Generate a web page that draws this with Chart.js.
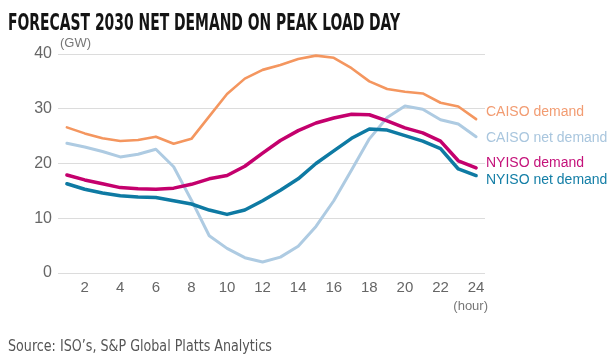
<!DOCTYPE html>
<html><head><meta charset="utf-8">
<script src="https://cdn.jsdelivr.net/npm/chart.js@4"></script>
<style>
html,body{margin:0;padding:0;background:#fff;width:615px;height:357px;overflow:hidden;}
#wrap{position:relative;width:615px;height:357px;}
canvas{position:absolute;left:0;top:0;}
.t{position:absolute;white-space:nowrap;transform-origin:0 0;line-height:1;}
#title{left:8px;top:9px;font:bold 23px "Liberation Sans Narrow","DejaVu Sans Condensed",sans-serif;color:#141414;}
#source{left:8px;top:337px;font:15px "Liberation Sans Narrow","DejaVu Sans Condensed",sans-serif;color:#555;}
</style></head>
<body><div id="wrap"><canvas id="c" width="615" height="357"></canvas>
<div class="t" id="title">FORECAST 2030 NET DEMAND ON PEAK LOAD DAY</div>
<div class="t" id="source">Source: ISO’s, S&amp;P Global Platts Analytics</div></div>
<script>
const hours = [1,2,3,4,5,6,7,8,9,10,11,12,13,14,15,16,17,18,19,20,21,22,23,24];
const xTicks = [2,4,6,8,10,12,14,16,18,20,22,24];
const yTicks = [0,10,20,30,40];
const seriesNames = ['CAISO demand','CAISO net demand','NYISO demand','NYISO net demand'];
const caisoDemand = [26.6,25.5,24.6,24.1,24.3,24.9,23.6,24.5,28.6,32.7,35.5,37.1,38.0,39.1,39.7,39.3,37.4,35.0,33.6,33.1,32.8,31.1,30.4,28.1];
const caisoNet    = [23.7,23.0,22.2,21.2,21.7,22.6,19.4,13.3,6.8,4.5,2.8,2.0,2.9,4.9,8.5,13.2,18.8,24.5,28.4,30.5,29.9,28.0,27.2,24.9];
const nyisoDemand = [17.9,17.0,16.3,15.6,15.4,15.3,15.5,16.2,17.2,17.8,19.5,21.9,24.2,26.0,27.4,28.3,29.0,28.9,27.8,26.5,25.6,24.1,20.5,19.2];
const nyisoNet    = [16.3,15.3,14.6,14.1,13.9,13.8,13.2,12.6,11.5,10.7,11.5,13.2,15.1,17.2,20.0,22.3,24.6,26.3,26.1,25.1,24.1,22.7,19.0,17.8];

const lineColors = ['#f4965f','#aecbe2','#c4006d','#0e7aa3'];
const textColors = ['#f29c72','#a9c6de','#c4127a','#137ea6'];
const labelAt = [29.3,24.6,20.1,16.9];

function pts(v){ return hours.map((h,i)=>({x:h,y:v[i]})); }

const annot = {
  id:'annot',
  afterDraw(chart){
    const {ctx, chartArea:a, scales:{y}} = chart;
    ctx.save();
    ctx.textBaseline='middle'; ctx.textAlign='left';
    ctx.font='14px "Liberation Sans", Arial, sans-serif';
    seriesNames.forEach((n,i)=>{ ctx.fillStyle=textColors[i]; ctx.fillText(n, a.right+1, y.getPixelForValue(labelAt[i])); });
    ctx.fillStyle='#777';
    ctx.font='13px "Liberation Sans", Arial, sans-serif';
    ctx.fillText('(GW)', a.left+2, a.top-11);
    ctx.textAlign='right';
    ctx.fillText('(hour)', a.right+3, a.bottom+33);
    ctx.restore();
  }
};

const datasets = [
  {label:seriesNames[2], data:pts(nyisoDemand), borderColor:lineColors[2], borderWidth:3.5},
  {label:seriesNames[3], data:pts(nyisoNet), borderColor:lineColors[3], borderWidth:3.5},
  {label:seriesNames[0], data:pts(caisoDemand), borderColor:lineColors[0], borderWidth:2.6},
  {label:seriesNames[1], data:pts(caisoNet), borderColor:lineColors[1], borderWidth:3}
];
datasets.forEach(d=>{ d.pointRadius=0; d.tension=0; d.fill=false; d.borderJoinStyle='round'; d.borderCapStyle='round'; d.clip=false; });

new Chart(document.getElementById('c'), {
  type:'line',
  data:{datasets},
  options:{
    responsive:false, animation:false, events:[],
    layout:{padding:{top:54,left:0,right:130,bottom:0}},
    plugins:{legend:{display:false}, tooltip:{enabled:false}},
    scales:{
      x:{type:'linear', min:0.5, max:24.5,
        afterBuildTicks(s){ s.ticks = xTicks.map(v=>({value:v})); },
        afterFit(s){ s.height = 84; },
        grid:{display:false, drawTicks:false}, border:{display:false},
        ticks:{padding:6, color:'#666', font:{size:15, family:'"Liberation Sans", Arial, sans-serif'}, maxRotation:0, autoSkip:false}
      },
      y:{min:0, max:40,
        afterBuildTicks(s){ s.ticks = yTicks.map(v=>({value:v})); },
        afterFit(s){ s.width = 58; },
        grid:{color:'#dcdcdc', lineWidth:1, drawTicks:false}, border:{display:false},
        ticks:{padding:6, color:'#666', font:{size:16, family:'"Liberation Sans", Arial, sans-serif'}}
      }
    }
  },
  plugins:[annot]
});

function fit(id, w){ const el=document.getElementById(id); const r=el.getBoundingClientRect().width; el.style.transform='scaleX('+(w/r)+')'; }
fit('title', 392);
fit('source', 264);
</script>
</body></html>
